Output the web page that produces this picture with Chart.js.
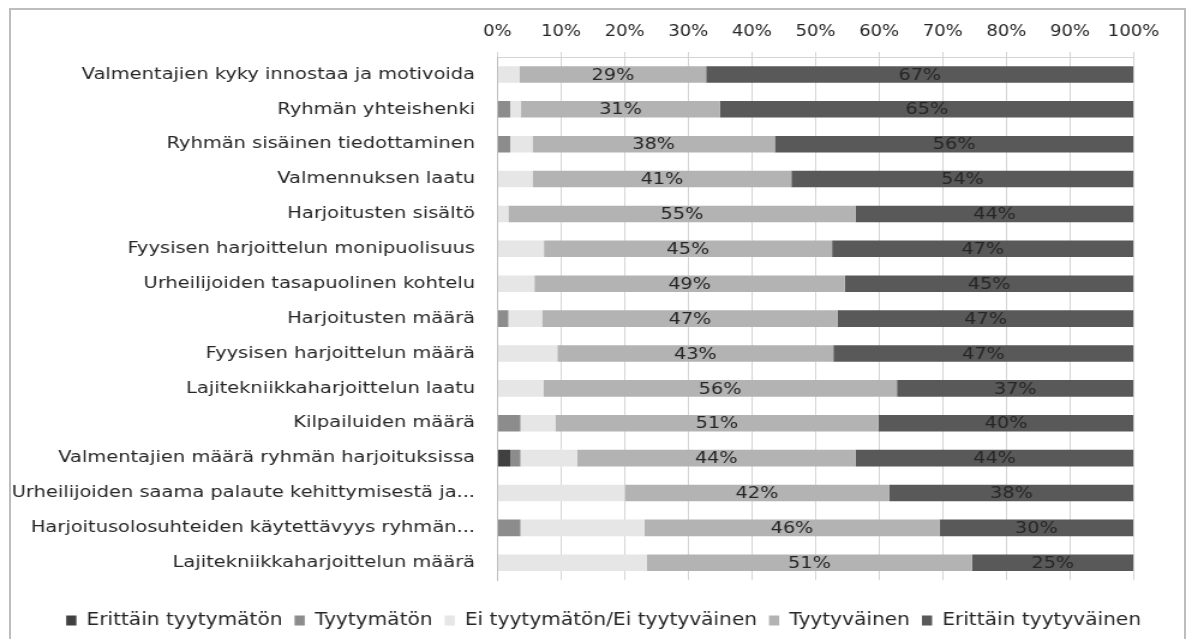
<!DOCTYPE html>
<html><head><meta charset="utf-8">
<script src="https://cdn.jsdelivr.net/npm/chart.js@4"></script>
<style>
html,body{margin:0;padding:0;background:#fff;overflow:hidden;width:1192px;height:639px;}
#frame{position:absolute;left:9px;top:8px;width:1177px;height:700px;border:2px solid #bdbdbd;box-sizing:border-box;}
#wrap{position:absolute;left:0;top:0;width:993px;height:639px;transform:scaleX(1.2004);transform-origin:0 0;}
canvas{display:block;width:993px;height:639px;}
</style></head><body>
<div id="frame"></div>
<div id="wrap"><canvas id="c" width="993" height="639"></canvas></div>
<script>
const categories = [
  'Valmentajien kyky innostaa ja motivoida',
  'Ryhmän yhteishenki',
  'Ryhmän sisäinen tiedottaminen',
  'Valmennuksen laatu',
  'Harjoitusten sisältö',
  'Fyysisen harjoittelun monipuolisuus',
  'Urheilijoiden tasapuolinen kohtelu',
  'Harjoitusten määrä',
  'Fyysisen harjoittelun määrä',
  'Lajitekniikkaharjoittelun laatu',
  'Kilpailuiden määrä',
  'Valmentajien määrä ryhmän harjoituksissa',
  'Urheilijoiden saama palaute kehittymisestä ja...',
  'Harjoitusolosuhteiden käytettävyys ryhmän...',
  'Lajitekniikkaharjoittelun määrä'
];
const seriesNames = ['Erittäin tyytymätön','Tyytymätön','Ei tyytymätön/Ei tyytyväinen','Tyytyväinen','Erittäin tyytyväinen'];
const erittainTyytymaton = [0,0,0,0,0,0,0,0,0,0,0,2.0,0,0,0];
const tyytymaton = [0,2.0,2.0,0,0,0,0,1.7,0,0,3.6,1.6,0,3.6,0];
const eiKumpikaan = [3.5,1.7,3.5,5.5,1.7,7.3,5.8,5.3,9.4,7.2,5.5,8.9,20.0,19.5,23.5];
const tyytyvainen = [29.3,31.3,38.1,40.7,54.6,45.3,48.8,46.5,43.4,55.6,50.8,43.8,41.6,46.4,51.1];
const erittainTyytyvainen = [67.2,65.0,56.4,53.8,43.7,47.4,45.4,46.5,47.2,37.2,40.1,43.7,38.4,30.45,25.4];
const xTickValues = [0,10,20,30,40,50,60,70,80,90,100];
const colors = ['#404040','#8c8c8c','#e6e6e6','#b3b3b3','#595959'];
const labelledSeries = [3,4];

Chart.defaults.font.family = '"DejaVu Sans", sans-serif';

const segLabels = {
  id:'segLabels',
  afterDatasetsDraw(chart){
    const ctx = chart.ctx;
    ctx.save();
    ctx.font = '16px "DejaVu Sans"';
    ctx.fillStyle = '#262626';
    ctx.textAlign = 'center';
    ctx.textBaseline = 'middle';
    labelledSeries.forEach(di => {
      const meta = chart.getDatasetMeta(di);
      meta.data.forEach((bar, i) => {
        const v = chart.data.datasets[di].data[i];
        ctx.fillText(Math.round(v) + '%', (bar.x + bar.base) / 2, bar.y + 1);
      });
    });
    ctx.restore();
  }
};

// centre the legend row under the whole figure rather than the padded area
const legendShift = {
  id:'legendShift',
  afterLayout(chart){
    const lg = chart.legend;
    if (lg) { lg.left += 30.7; lg.right += 30.7; }
  }
};

const series = [erittainTyytymaton, tyytymaton, eiKumpikaan, tyytyvainen, erittainTyytyvainen];

new Chart(document.getElementById('c'), {
  type: 'bar',
  data: {
    labels: categories,
    datasets: series.map((d, i) => ({
      label: seriesNames[i],
      data: d,
      backgroundColor: colors[i],
      borderWidth: 0,
      categoryPercentage: 1,
      barPercentage: 0.475
    }))
  },
  options: {
    indexAxis: 'y',
    responsive: false,
    animation: false,
    layout: { padding: { left: 0, right: 48.7, top: 0, bottom: 0 } },
    scales: {
      x: {
        type: 'linear', position: 'top', stacked: true, min: 0, max: 100,
        afterBuildTicks(s){ s.ticks = xTickValues.map(v => ({value: v})); },
        ticks: { callback: v => v + '%', color: '#262626', font: { size: 15 }, padding: 11, maxRotation: 0, autoSkip: false },
        grid: { color: '#d4d4d4', lineWidth: 1, tickLength: 5, drawTicks: true },
        border: { color: '#d4d4d4' },
        afterFit(s){ s.height = 57; }
      },
      y: {
        stacked: true,
        ticks: { color: '#262626', font: { size: 16.2 }, padding: 18.7, autoSkip: false },
        grid: { display: false, drawTicks: false },
        border: { display: true, color: '#bdbdbd' },
        afterFit(s){ s.width = 414.45; }
      }
    },
    plugins: {
      legend: {
        position: 'bottom', align: 'center',
        labels: { boxWidth: 8.5, boxHeight: 10, padding: 10, color: '#262626', font: { size: 16.8 } },
        title: { display: true, text: '', padding: 0, font: { size: 10, lineHeight: 2.2 } }
      },
      tooltip: { enabled: false }
    }
  },
  plugins: [segLabels, legendShift]
});
</script></body></html>
